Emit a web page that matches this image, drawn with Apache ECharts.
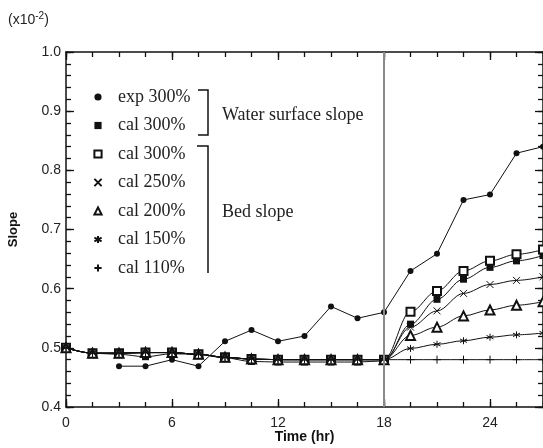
<!DOCTYPE html>
<html><head><meta charset="utf-8">
<script src="https://cdn.jsdelivr.net/npm/echarts@6/dist/echarts.min.js"></script>
<style>html,body{margin:0;padding:0;background:#fff}#c{width:543px;height:448px}</style>
</head><body><div id="c"></div>
<script>
var times = [0,1.5,3,4.5,6,7.5,9,10.5,12,13.5,15,16.5,18,19.5,21,22.5,24,25.5,27];
var exp300   = [null,null,0.469,0.469,0.48,0.469,0.511,0.53,0.511,0.52,0.57,0.55,0.56,0.63,0.659,0.75,0.759,0.829,0.84];
var wsCal300 = [0.50,0.491,0.489,0.485,0.49,0.489,0.483,0.477,0.476,0.476,0.476,0.476,0.478,0.54,0.582,0.616,0.636,0.647,0.656];
var bedCal300= [0.50,0.491,0.491,0.492,0.492,0.489,0.484,0.481,0.48,0.48,0.48,0.48,0.48,0.561,0.596,0.630,0.647,0.658,0.666];
var bedCal250= [0.50,0.491,0.491,0.492,0.492,0.489,0.484,0.481,0.48,0.48,0.48,0.48,0.48,0.535,0.5625,0.592,0.607,0.614,0.62];
var bedCal200= [0.50,0.491,0.491,0.492,0.492,0.489,0.484,0.481,0.48,0.48,0.48,0.48,0.48,0.521,0.535,0.554,0.564,0.572,0.578];
var bedCal150= [0.50,0.491,0.491,0.492,0.492,0.489,0.484,0.481,0.48,0.48,0.48,0.48,0.48,0.499,0.506,0.512,0.518,0.522,0.525];
var bedCal110= [0.50,0.491,0.491,0.492,0.492,0.489,0.484,0.481,0.48,0.48,0.48,0.48,0.48,0.48,0.48,0.48,0.48,0.48,0.48];
var xTicks = [0,6,12,18,24];
var yTicks = [0.4,0.5,0.6,0.7,0.8,0.9,1.0];
var legendNames = ['exp 300%','cal 300% ','cal 300%','cal 250%','cal 200%','cal 150%','cal 110%'];

function pairs(arr){ var o=[]; for(var i=0;i<times.length;i++){ if(arr[i]!=null) o.push([times[i],arr[i]]); } return o; }

var crossPath = 'path://M0 0L10 10M10 0L0 10';
var starPath = 'path://M5 0L5 10M0.7 2.5L9.3 7.5M0.7 7.5L9.3 2.5';
var plusPath = 'path://M5 0L5 10M0 5L10 5';

function mkSeries(name, arr, symbol, size, smooth, extra){
  var s = {
    name: name, type: 'line', data: pairs(arr), symbol: symbol, symbolSize: size,
    smooth: smooth ? 0.35 : false, smoothMonotone: 'x',
    lineStyle: {color:'#111', width:1},
    itemStyle: {color:'#111', borderColor:'#111', borderWidth: 0},
    emphasis: {disabled:true}, animation:false, z: 3
  };
  if (extra) for (var k in extra) s[k]=extra[k];
  return s;
}
var strokeStyle = {itemStyle:{color:'#111', borderColor:'#111', borderWidth:1}};
var emptyStyle = {itemStyle:{color:'#111', borderColor:'#111', borderWidth:1}};

var series = [
  mkSeries(legendNames[0], exp300, 'circle', 6, false),
  mkSeries(legendNames[1], wsCal300, 'rect', 7, true),
  mkSeries(legendNames[2], bedCal300, 'emptyRect', 8, true, emptyStyle),
  mkSeries(legendNames[3], bedCal250, crossPath, 7, true, strokeStyle),
  mkSeries(legendNames[4], bedCal200, 'emptyTriangle', 9, true, emptyStyle),
  mkSeries(legendNames[5], bedCal150, starPath, 7, true, strokeStyle),
  mkSeries(legendNames[6], bedCal110, plusPath, 8, true, strokeStyle)
];
series[0].markLine = {
  silent:true, symbol:['none','none'], label:{show:false},
  lineStyle:{color:'#8a8a8a', width:2, type:'solid'},
  data:[{xAxis: xTicks[3]}], animation:false
};

function tickAxis(kind, pos, interval, len, showLine){
  var o = {
    type:'value', position:pos, interval:interval, offset:0,
    axisLine:{show:showLine, onZero:false, lineStyle:{color:'#111', width:1.5}},
    axisTick:{show:true, inside:true, length:len, lineStyle:{color:'#111', width:1.3}},
    minorTick:{show:false}, splitLine:{show:false}, axisLabel:{show:false}
  };
  if (kind==='x'){ o.min = xTicks[0]; o.max = 27; } else { o.min = yTicks[0]; o.max = yTicks[yTicks.length-1]; }
  return o;
}

var xMain = tickAxis('x','bottom',6,8,true);
xMain.axisLabel = {show:true, color:'#222', fontFamily:'Liberation Sans', fontSize:14, margin:9, customValues:xTicks};
xMain.name = 'Time (hr)'; xMain.nameLocation='middle'; xMain.nameGap=23; xMain.nameMoveOverlap=false;
xMain.nameTextStyle = {fontFamily:'Liberation Sans', fontWeight:'bold', fontSize:14, color:'#111'};

var yMain = tickAxis('y','left',0.1,8,true);
yMain.axisLabel = {show:true, color:'#222', fontFamily:'Liberation Sans', fontSize:14, margin:5,
  formatter:function(v){return v.toFixed(1);}};
yMain.name='Slope'; yMain.nameLocation='middle'; yMain.nameGap=46; yMain.nameRotate=90;
yMain.nameTextStyle = {fontFamily:'Liberation Sans', fontWeight:'bold', fontSize:13, color:'#111'};

var chart = echarts.init(document.getElementById('c'), null, {renderer:'canvas'});
chart.setOption({
  backgroundColor:'#fff',
  animation:false,
  grid:{left:66, top:52, right:0, bottom:41, containLabel:false, outerBoundsMode:'none'},
  xAxis:[
    xMain,
    tickAxis('x','top',6,8,true),
    tickAxis('x','bottom',1.5,5,false),
    tickAxis('x','top',1.5,5,false)
  ],
  yAxis:[
    yMain,
    tickAxis('y','right',0.1,8,true),
    tickAxis('y','left',0.02,5,false),
    tickAxis('y','right',0.02,5,false)
  ],
  legend:{
    show:true, orient:'vertical', left:82, top:88, padding:0, itemWidth:30, itemHeight:9, itemGap:10.5,
    data: legendNames, selectedMode:false,
    lineStyle:{opacity:0},
    textStyle:{fontFamily:'Liberation Serif', fontSize:18, color:'#222'},
    formatter:function(n){ return n.trim(); }
  },
  graphic:[
    {type:'text', left:8, top:11, style:{
      rich:{a:{fontFamily:'Liberation Sans', fontSize:14, fill:'#222'}, s:{fontFamily:'Liberation Sans', fontSize:10, fill:'#222', verticalAlign:'top', padding:[0,0,9,0]}},
      text:'{a|(x10}{s|-2}{a|)}'}},
    {type:'polyline', shape:{points:[[198,90],[208,90],[208,135],[198,135]]}, style:{stroke:'#111', lineWidth:1.5, fill:null}},
    {type:'polyline', shape:{points:[[197,146],[208,146],[208,273]]}, style:{stroke:'#111', lineWidth:1.5, fill:null}},
    {type:'text', left:222, top:106, style:{text:'Water surface slope', fontFamily:'Liberation Serif', fontSize:18, fill:'#222'}},
    {type:'text', left:222, top:203, style:{text:'Bed slope', fontFamily:'Liberation Serif', fontSize:18, fill:'#222'}}
  ],
  series: series
});
</script></body></html>
